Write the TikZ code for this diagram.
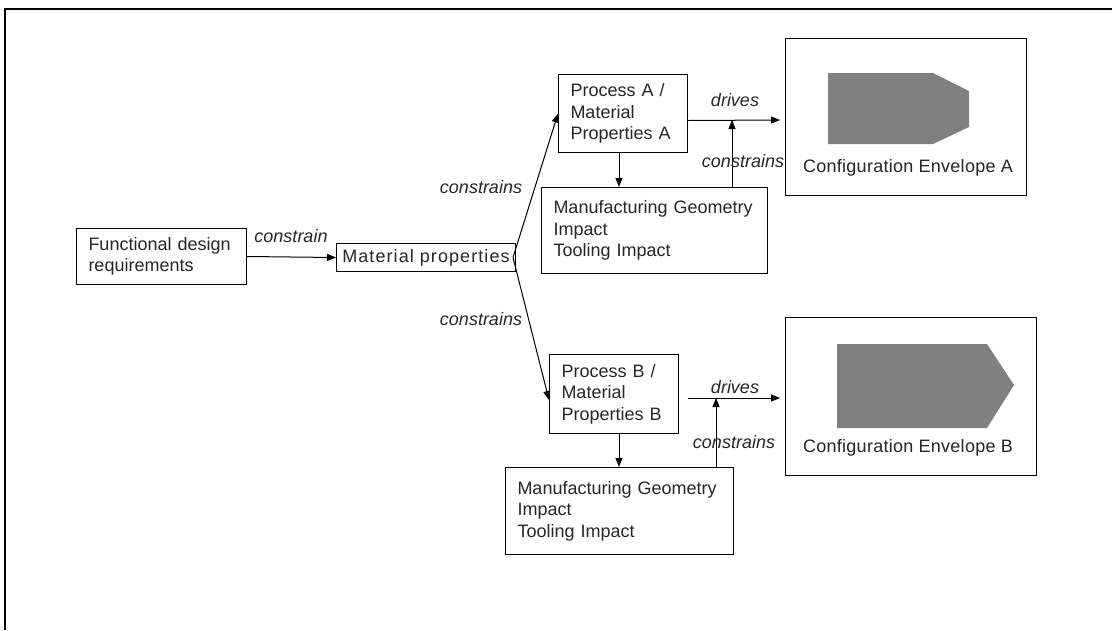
\documentclass[tikz,border=0pt]{standalone}
\usepackage{fontspec}
\setmainfont{Liberation Sans}
\usetikzlibrary{arrows.meta,calc}
\begin{document}
\begin{tikzpicture}[x=1pt,y=-1pt,
  every node/.style={font=\fontsize{18}{21.5}\selectfont, text=black!85},
  box/.style={draw=black, line width=1pt, anchor=north west, inner xsep=12pt,
    inner ysep=0pt, align=left},
  lbl/.style={font=\fontsize{18}{21.5}\selectfont\itshape, inner sep=0pt},
  arr/.style={line width=1pt, -{Triangle[length=9pt,width=7pt]}},
  envelope/.style={fill=black!50, draw=none}]
  \useasboundingbox (0,0) rectangle (1112,630);
  % page frame (top and left edges)
  \draw[line width=2pt] (5,630) -- (5,9) -- (1112,9);

  % boxes
  \node[box, text width=146pt, minimum height=56pt] (fdr) at (76,228)
    {Functional design\\requirements};
  \node[box, inner xsep=2pt, text width=175pt, minimum height=28pt, align=center] (mp) at (336,243)
    {\addfontfeatures{LetterSpace=6}Material properties};
  \node[box, text width=105pt, minimum height=78pt] (pa) at (558,74)
    {Process A /\\Material\\Properties A};
  \node[box, text width=202pt, minimum height=86pt] (ma) at (541,187)
    {Manufacturing Geometry\\Impact\\Tooling Impact};
  \node[box, text width=105pt, minimum height=79pt] (pb) at (549,354)
    {Process B /\\Material\\Properties B};
  \node[box, text width=204pt, minimum height=87pt] (mb) at (505,467)
    {Manufacturing Geometry\\Impact\\Tooling Impact};

  % configuration envelopes
  \node[draw=black, line width=1pt, anchor=north west, minimum width=241pt,
    minimum height=157pt, inner sep=0pt] (ca) at (785,38) {};
  \fill[envelope] (828,73) -- (933,73) -- (969,91) -- (969,127) -- (933,144) -- (828,144) -- cycle;
  \node (calbl) at (908,168) {\addfontfeatures{LetterSpace=1.5}Configuration Envelope A};

  \node[draw=black, line width=1pt, anchor=north west, minimum width=251pt,
    minimum height=158pt, inner sep=0pt] (cb) at (785,317) {};
  \fill[envelope] (837,344) -- (987,344) -- (1014,385) -- (987,428) -- (837,428) -- cycle;
  \node (cblbl) at (908,448) {\addfontfeatures{LetterSpace=1.5}Configuration Envelope B};

  % connector end points
  \coordinate (split) at ($(mp.east)+(-3,0)$);
  \coordinate (pbin) at ($(pb.west)+(0,6)$);
  \coordinate (daS) at ($(pa.east)+(0,7)$);
  \coordinate (daE) at (780,120);
  \coordinate (dbS) at (688,398);
  \coordinate (dbE) at (780,398);
  \coordinate (caJ) at (732,120);
  \coordinate (cbJ) at (716,398);

  % connectors
  \draw[arr] (fdr.east) -- (mp.west);
  \draw[arr] (split) -- (pa.west);
  \draw[arr] (split) -- (pbin);
  \draw[arr] (pa.south -| 619,0) -- (ma.north -| 619,0);
  \draw[arr] (pb.south -| 619,0) -- (mb.north -| 619,0);
  \draw[arr] (daS) -- (daE);
  \draw[arr] (dbS) -- (dbE);
  \draw[arr] (ma.north -| caJ) -- (caJ);
  \draw[arr] (mb.north -| cbJ) -- (cbJ);

  % connector labels
  \node[lbl] (l1) at (291,236) {constrain};
  \node[lbl] (l2) at (481,187) {constrains};
  \node[lbl] (l3) at (481,319) {constrains};
  \node[lbl] (l4) at (735,100) {drives};
  \node[lbl] (l5) at (743,161) {constrains};
  \node[lbl] (l6) at (735,387) {drives};
  \node[lbl] (l7) at (734,442) {constrains};
\end{tikzpicture}
\end{document}
